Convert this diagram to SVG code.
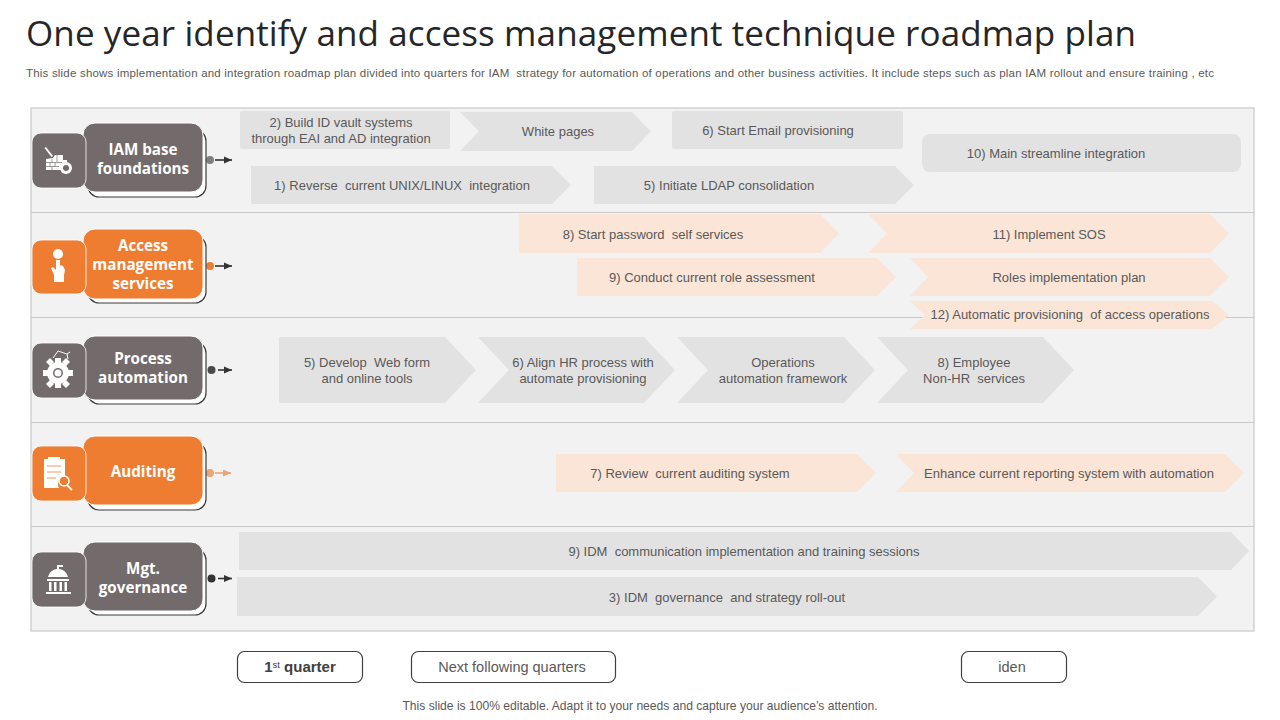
<svg xmlns="http://www.w3.org/2000/svg" width="1280" height="720" viewBox="0 0 1280 720">
<style>
text{font-family:"Liberation Sans",Arial,sans-serif;fill:#595959;font-size:13px;text-anchor:middle;white-space:pre}
.t{font-family:"Open Sans","Noto Sans",sans-serif;font-size:35px;fill:#262626;text-anchor:start}
.s{font-size:11.5px;text-anchor:start}
.n{font-family:"Open Sans","Noto Sans",sans-serif;font-weight:700;font-size:15.2px;fill:#fff}
.g{fill:#e3e2e2}.o{fill:#fbe5d7}.ic{fill:#fff}
.dk{fill:#736b6b}.or{fill:#ee7d31}
.back{fill:#fff;stroke:#3a3a3a;stroke-width:1.2}
.btn{fill:#fff;stroke:#404040;stroke-width:1.2}
.b{font-size:14.5px}
.ln{stroke:#333;stroke-width:1.6;fill:none}
</style>
<defs>
<marker id="ah" markerWidth="9" markerHeight="8" refX="8" refY="4" orient="auto" markerUnits="userSpaceOnUse"><path d="M0 .5L8 4L0 7.500Z" fill="#333"/></marker>
<marker id="ao" markerWidth="9" markerHeight="8" refX="8" refY="4" orient="auto" markerUnits="userSpaceOnUse"><path d="M0 .5L8 4L0 7.500Z" fill="#eda473"/></marker>
</defs>
<text class="t" x="26" y="46" textLength="1110" lengthAdjust="spacing">One year identify and access management technique roadmap plan</text>
<text class="s" x="26" y="77" textLength="1188" lengthAdjust="spacing">This slide shows implementation and integration roadmap plan divided into quarters for IAM  strategy for automation of operations and other business activities. It include steps such as plan IAM rollout and ensure training , etc</text>
<g id="bands">
<rect x="31" y="108" width="1223" height="523" fill="#f2f2f2" stroke="#c9c9c9" stroke-width="1.2"/>
<path d="M31 212.500H1254M31 317.500H1254M31 422.500H1254M31 526.500H1254" stroke="#c9c9c9" stroke-width="1.2" fill="none"/>
</g>
<g id="connectors">
<circle cx="210" cy="160" r="4" fill="#808080"/><path class="ln" d="M215 160H232" marker-end="url(#ah)"/>
<circle cx="210" cy="266" r="4" fill="#ee7d31"/><path class="ln" d="M215 266H232" marker-end="url(#ah)"/>
<circle cx="211.500" cy="370" r="4" fill="#4a4a4a"/><path class="ln" d="M218 370H232" marker-end="url(#ah)"/>
<circle cx="210" cy="473" r="4" fill="#eda473"/><path d="M215 473H231" stroke="#eda473" stroke-width="1.6" marker-end="url(#ao)"/>
<circle cx="211.500" cy="578.500" r="4" fill="#333"/><path class="ln" d="M218 578.500H232" marker-end="url(#ah)"/>
</g>
<g id="node-iam">
<rect class="back" x="88" y="130" width="118" height="67" rx="11"/>
<rect class="dk" x="83" y="123" width="120" height="69" rx="12" stroke="#fff"/>
<rect class="dk" x="32" y="133" width="54" height="55" rx="9" stroke="#fff" stroke-width=".8"/>
<g class="ic"><path d="M46 147l7 9-1.500 1-7-9z"/><path d="M46 159l7-1 2-3h8v5h4v2a6 6 0 0 0-6 8h-15z"/><circle cx="66" cy="168" r="6"/><circle cx="66" cy="168" r="3" fill="#736b6b"/></g>
<path d="M46 162.500H62M46 166.500H59M52 159v3.500M57 155v7M50 162.500v4M55 162.500v4M52 166.500v4" stroke="#736b6b" stroke-width=".7" fill="none"/>
<text class="n" x="143" y="155">IAM base</text><text class="n" x="143" y="174">foundations</text>
</g>
<g id="node-access">
<rect class="back" x="88" y="236" width="118" height="67" rx="11"/>
<rect class="or" x="83" y="229" width="120" height="70" rx="12" stroke="#fff"/>
<rect class="or" x="32" y="240" width="54" height="54" rx="9" stroke="#fff" stroke-width=".8"/>
<g class="ic"><circle cx="58" cy="254" r="5"/><path d="M56 260h4v5l3 1 2 4-1 5v7h-10v-7l-3-7 2-1 3 3z"/></g>
<text class="n" x="143" y="251">Access</text><text class="n" x="143" y="270">management</text><text class="n" x="143" y="289">services</text>
</g>
<g id="node-process">
<rect class="back" x="88" y="342" width="118" height="62" rx="11"/>
<rect class="dk" x="83" y="336" width="120" height="64" rx="12" stroke="#fff"/>
<rect class="dk" x="32" y="343" width="54" height="55" rx="9" stroke="#fff" stroke-width=".8"/>
<g class="ic"><circle cx="58" cy="373" r="11"/><path d="M55 358h6v5h-6zM55 383h6v5h-6zM43 370h5v6h-5zM68 370h5v6h-5zM46 362l4-4 4 4-4 4zM62 362l4-4 4 4-4 4zM46 384l4-4 4 4-4 4zM62 384l4-4 4 4-4 4z"/><circle cx="58" cy="373" r="5" fill="#736b6b"/><circle cx="58" cy="373" r="3.500" fill="#fff"/><path d="M53 358l5-7 9 3 3-2M67 354l1 5" fill="none" stroke="#fff" stroke-width="1"/></g>
<text class="n" x="143" y="364">Process</text><text class="n" x="143" y="383">automation</text>
</g>
<g id="node-auditing">
<rect class="back" x="88" y="443" width="118" height="67" rx="11"/>
<rect class="or" x="83" y="436" width="120" height="69" rx="12" stroke="#fff"/>
<rect class="or" x="32" y="446" width="54" height="55" rx="9" stroke="#fff" stroke-width=".8"/>
<g class="ic"><path d="M44 459h21v17a8 8 0 0 0-6 12h-15z"/><rect x="48" y="457" width="12" height="4"/><circle cx="64" cy="481" r="5" fill="none" stroke="#fff" stroke-width="1.500"/><path d="M67 485l5 5" stroke="#fff" stroke-width="2"/><path d="M47 466h14M47 472h14M47 478h9" stroke="#ee7d31" stroke-width=".8"/></g>
<text class="n" x="143" y="477">Auditing</text>
</g>
<g id="node-mgt">
<rect class="back" x="88" y="549" width="118" height="66" rx="11"/>
<rect class="dk" x="83" y="542" width="120" height="69" rx="12" stroke="#fff"/>
<rect class="dk" x="32" y="552" width="54" height="55" rx="9" stroke="#fff" stroke-width=".8"/>
<g class="ic"><path d="M58 565h5v2h-4v2a10 10 0 0 1 9 8h-20a10 10 0 0 1 9-8v-4zM47 579h22v2h-22zM49 582h2.500v9h-2.500zM54 582h2.500v9h-2.500zM59.500 582h2.500v9h-2.500zM64.500 582h2.500v9h-2.500zM46 592h25v2h-25z"/></g>
<text class="n" x="143" y="574">Mgt.</text><text class="n" x="143" y="593">governance</text>
</g>
<g id="step-shapes">
<rect class="g" x="240" y="111" width="210" height="38" rx="2"/>
<path class="g" d="M460 112H632L651 131.500 632 151H460L479 131.500Z"/>
<rect class="g" x="672" y="111" width="231" height="38" rx="2"/>
<rect class="g" x="922" y="134" width="319" height="38" rx="8"/>
<path class="g" d="M251 166H552L571 185 552 204H251Z"/>
<path class="g" d="M594 166H895L914 185 895 204H594Z"/>
<path class="o" d="M519 214H820L839 233.500 820 253H519Z"/>
<path class="o" d="M868 214H1210L1229 233.500 1210 253H868L887 233.500Z"/>
<path class="o" d="M577 258H877L896 277 877 296H577Z"/>
<path class="o" d="M910 258H1210L1229 277 1210 296H910L928 277Z"/>
<path class="o" d="M910 301H1212L1229 315 1212 329H910L925 315Z"/>
<path class="g" d="M279 337H445L476 370 445 403H279Z"/>
<path class="g" d="M478 337H644L675 370 644 403H478L509 370Z"/>
<path class="g" d="M677 337H844L875 370 844 403H677L708 370Z"/>
<path class="g" d="M877 337H1043L1074 370 1043 403H877L908 370Z"/>
<path class="o" d="M556 454H857L876 473 857 492H556Z"/>
<path class="o" d="M896 454H1225L1244 473 1225 492H896L914 473Z"/>
<path class="g" d="M239 532H1231L1249 551 1231 570H239Z"/>
<path class="g" d="M237 577H1198L1217 596.500 1198 616H237Z"/>
</g>
<g id="step-labels">
<text x="341" y="127">2) Build ID vault systems</text><text x="341" y="143">through EAI and AD integration</text>
<text x="558" y="136">White pages</text>
<text x="778" y="135">6) Start Email provisioning</text>
<text x="1056" y="158">10) Main streamline integration</text>
<text x="402" y="190">1) Reverse  current UNIX/LINUX  integration</text>
<text x="729" y="190">5) Initiate LDAP consolidation</text>
<text x="653" y="239">8) Start password  self services</text>
<text x="1049" y="239">11) Implement SOS</text>
<text x="712" y="282">9) Conduct current role assessment</text>
<text x="1069" y="282">Roles implementation plan</text>
<text x="1070" y="319">12) Automatic provisioning  of access operations</text>
<text x="367" y="367">5) Develop  Web form</text><text x="367" y="383">and online tools</text>
<text x="583" y="367">6) Align HR process with</text><text x="583" y="383">automate provisioning</text>
<text x="783" y="367">Operations</text><text x="783" y="383">automation framework</text>
<text x="974" y="367">8) Employee</text><text x="974" y="383">Non-HR  services</text>
<text x="690" y="478">7) Review  current auditing system</text>
<text x="1069" y="478">Enhance current reporting system with automation</text>
<text x="744" y="556">9) IDM  communication implementation and training sessions</text>
<text x="727" y="602">3) IDM  governance  and strategy roll-out</text>
</g>
<g id="legend">
<rect class="btn" x="237.500" y="651.500" width="125" height="31" rx="7"/>
<text x="300" y="672" style="font-size:15px;font-weight:700;fill:#404040">1<tspan dy="-4" style="font-size:9.500px;font-weight:400">st</tspan><tspan dy="4"> quarter</tspan></text>
<rect class="btn" x="411.500" y="651.500" width="204" height="31" rx="7"/>
<text class="b" x="512" y="672">Next following quarters</text>
<rect class="btn" x="961.500" y="651.500" width="105" height="31" rx="7"/>
<text class="b" x="1012" y="672">iden</text>
</g>
<text x="640" y="710" style="font-size:12.1px">This slide is 100% editable. Adapt it to your needs and capture your audience’s attention.</text>
</svg>
